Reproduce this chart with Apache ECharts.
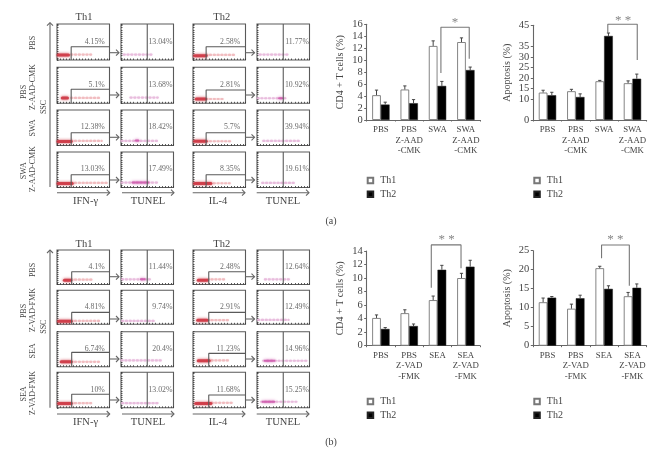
<!DOCTYPE html>
<html><head><meta charset="utf-8">
<script src="https://cdn.jsdelivr.net/npm/echarts@6/dist/echarts.min.js"></script>
<style>html,body{margin:0;padding:0;background:#fff}#c{width:662px;height:455px}#c canvas{filter:blur(0.3px)}</style>
</head><body><div id="c"></div>
<script>
// ---------- Bar chart data ----------
const catsA = ['PBS', 'PBS\nZ-AAD\n-CMK', 'SWA', 'SWA\nZ-AAD\n-CMK'];
const catsB = ['PBS', 'PBS\nZ-VAD\n-FMK', 'SEA', 'SEA\nZ-VAD\n-FMK'];
const cd4Th1A = [4.15, 5.1, 12.38, 13.03];
const cd4Th2A = [2.58, 2.81, 5.7, 8.35];
const cd4ErrTh1A = [0.85, 0.6, 0.85, 0.7];
const cd4ErrTh2A = [0.4, 0.6, 0.75, 0.5];
const apoTh1A = [13.04, 13.68, 18.42, 17.49];
const apoTh2A = [11.77, 10.92, 39.94, 19.61];
const apoErrTh1A = [1.1, 0.9, 0.4, 1.1];
const apoErrTh2A = [1.4, 1.5, 1.4, 2.2];
const cd4Th1B = [4.1, 4.81, 6.74, 10];
const cd4Th2B = [2.48, 2.91, 11.23, 11.68];
const cd4ErrTh1B = [0.45, 0.5, 0.6, 0.7];
const cd4ErrTh2B = [0.2, 0.3, 0.65, 0.95];
const apoTh1B = [11.44, 9.74, 20.4, 13.02];
const apoTh2B = [12.64, 12.49, 14.96, 15.25];
const apoErrTh1B = [1.1, 1.2, 0.5, 1.0];
const apoErrTh2B = [0.3, 0.8, 0.8, 1.0];
// significance brackets, in [position on 0-4 category span, value]
const bracketCd4A = [[2.62, 7.86], [2.62, 15.5], [3.62, 15.5], [3.62, 10.25]];
const bracketApoA = [[2.63, 41.3], [2.63, 45.5], [3.67, 45.5], [3.67, 28.5]];
const bracketCd4B = [[2.28, 8.57], [2.28, 14.9], [3.33, 14.9], [3.33, 11.44]];
const bracketApoB = [[2.41, 23], [2.41, 26.5], [3.39, 26.5], [3.39, 15.8]];
const starCd4A = [3.12, 16.3];
const starApoA = [3.17, 47.3];
const starCd4B = [2.82, 15.7];
const starApoB = [2.9, 27.9];

// ---------- Flow cytometry panels: one list per column ----------
const pctA = [
  ['4.15%', '5.1%', '12.38%', '13.03%'],
  ['13.04%', '13.68%', '18.42%', '17.49%'],
  ['2.58%', '2.81%', '5.7%', '8.35%'],
  ['11.77%', '10.92%', '39.94%', '19.61%']];
const pctB = [
  ['4.1%', '4.81%', '6.74%', '10%'],
  ['11.44%', '9.74%', '20.4%', '13.02%'],
  ['2.48%', '2.91%', '11.23%', '11.68%'],
  ['12.64%', '12.49%', '14.96%', '15.25%']];
// dense core [x0, x1, y] (null when there is no dense part)
const coreA = [
  [[2, 22, 14], [10, 20, 15], [2, 27, 11], [2, 29, 11]],
  [null, null, [28, 33, 14], [22, 52, 14]],
  [[3, 25, 12], [6, 24, 12], [3, 25, 12], [3, 34, 11]],
  [null, [42, 48, 14], null, null]];
const coreB = [
  [[14, 26, 12], [3, 27, 9], [8, 27, 14], [3, 27, 12]],
  [[38, 45, 15], null, null, null],
  [[10, 27, 12], [9, 27, 12], [10, 31, 17], [5, 34, 12]],
  [null, null, [15, 33, 17], [11, 33, 17]]];
// sparse tail [x0, x1, y]
const tailA = [
  [[27, 65, 15], [27, 80, 15], [27, 85, 13], [27, 98, 13]],
  [[5, 60, 15], [18, 70, 16], [1, 70, 13], [1, 70, 14]],
  [[25, 80, 14], [25, 60, 12], [25, 75, 12], [25, 70, 12]],
  [[5, 60, 15], [1, 55, 14], [12, 80, 13], [10, 70, 13]]];
const tailB = [
  [[27, 70, 14], [27, 82, 10], [27, 82, 14], [27, 65, 13]],
  [[2, 55, 15], [2, 65, 10], [1, 80, 18], [2, 70, 13]],
  [[28, 60, 15], [28, 70, 12], [28, 68, 18], [28, 75, 14]],
  [[15, 65, 15], [2, 60, 13], [12, 95, 17], [8, 75, 17]]];
// gate: left edge and top height per IFN/IL-4 column
const gateLeftA = [27, 25];
const gateLeftB = [28, 30];
const gateTopA = [[37, 39, 36, 36], [37, 37, 36, 36]];
const gateTopB = [[37, 35, 41, 38], [37, 35, 38, 36]];
const tunelSplit = 50;

// ---------- Layout ----------
const INK = '#444', LINE = '#666', SERIF = '"Liberation Serif","Times New Roman",serif';
const colX = [57, 121, 193, 257], panelW = [52.5, 52.5, 52.5, 52.5];
const rowsA = [[24, 36], [67.3, 36], [110, 35.5], [152, 35.5]];
const rowsB = [[250, 34.5], [290.3, 34], [331.7, 35], [372.3, 35.5]];
const labelRight = [91, 98, 90, 99];

const grid = [], xAxis = [], yAxis = [], series = [], graphic = [], legend = [];

function panel(col, rowBox, pct, core, tail, gate) {
  const g = grid.length;
  grid.push({ left: colX[col], top: rowBox[0], width: panelW[col], height: rowBox[1], show: true, borderColor: '#5a5a5a', borderWidth: 1.1, backgroundColor: '#fff' });
  const ax = { min: 0, max: 100, interval: 6, type: 'value', gridIndex: g, splitLine: { show: false }, axisLabel: { show: false },
    axisLine: { show: false }, axisTick: { show: true, inside: true, length: 1.5, lineStyle: { color: '#333', width: 0.8 } } };
  xAxis.push(Object.assign({}, ax));
  yAxis.push(Object.assign({}, ax));
  const tunel = col % 2 === 1;
  const segment = (d, color, width, type, op, blur) => d && series.push({ type: 'line', xAxisIndex: g, yAxisIndex: g, symbol: 'none', silent: true,
    data: [[d[0], d[2]], [d[1], d[2]]], lineStyle: { color, width, type, opacity: op, cap: 'round', shadowBlur: blur, shadowColor: color }, z: 3 });
  segment(tail, tunel ? '#e6b4d8' : '#f0b4b8', 2.2, [1.2, 2.6], 0.7, 1);
  segment(core, tunel ? '#cf5cae' : '#cc3340', tunel ? 2 : 3, 'solid', 0.85, 3);
  series.push({ type: 'line', xAxisIndex: g, yAxisIndex: g, symbol: 'none', silent: true, z: 4,
    data: tunel ? [[tunelSplit, 0], [tunelSplit, 100]] : [[gate[0], 0], [gate[0], gate[1]], [100, gate[1]]],
    lineStyle: { color: '#5a5a5a', width: 1.1 } });
  series.push({ type: 'scatter', xAxisIndex: g, yAxisIndex: g, symbolSize: 0, silent: true, clip: false, z: 5,
    data: [[labelRight[col], 51]],
    label: { show: true, position: 'left', distance: 0, formatter: pct, fontFamily: SERIF, fontSize: 7.8, color: INK } });
}
[[rowsA, pctA, coreA, tailA, gateLeftA, gateTopA], [rowsB, pctB, coreB, tailB, gateLeftB, gateTopB]].forEach(([rows, pct, core, tail, gl, gt]) => {
  for (let c = 0; c < 4; c++) for (let r = 0; r < 4; r++) {
    panel(c, rows[r], pct[c][r], core[c][r], tail[c][r], c % 2 === 0 ? [gl[c / 2], gt[c / 2][r]] : null);
  }
});

function bars(left, top, height, cats, max, step, th1, th2, e1, e2, name, bracket, star, stars, legendTop) {
  const g = grid.length, W = 113.3, BW = 8.7;
  grid.push({ left, top, width: W, height, show: false });
  xAxis.push({ type: 'category', gridIndex: g, data: cats, axisTick: { show: true, length: 1.5, lineStyle: { color: LINE } },
    axisLine: { lineStyle: { color: LINE, width: 1.1 } },
    axisLabel: { fontFamily: SERIF, fontSize: 8.8, lineHeight: 10.2, color: INK, margin: 5, interval: 0 } });
  yAxis.push({ type: 'value', gridIndex: g, min: 0, max, interval: step, splitLine: { show: false },
    axisLine: { show: true, lineStyle: { color: LINE, width: 1.1 } }, axisTick: { show: true, length: 2.5, lineStyle: { color: LINE } },
    axisLabel: { fontFamily: SERIF, fontSize: 10.5, lineHeight: 8, color: INK, margin: 4, showMinLabel: true, showMaxLabel: true, hideOverlap: false },
    name, nameLocation: 'middle', nameGap: 21, nameRotate: 90, nameTextStyle: { fontFamily: SERIF, fontSize: 10, color: INK } });
  const xi = xAxis.length;
  xAxis.push({ type: 'value', gridIndex: g, min: 0, max: 4, show: false });
  const xc = xi - 1, yc = yAxis.length - 1;
  const bar = (nm, vals, st) => series.push({ type: 'bar', name: nm, xAxisIndex: xc, yAxisIndex: yc, data: vals, barWidth: BW, barGap: 0, itemStyle: st, silent: true, z: 3 });
  bar('Th1', th1, { color: '#fff', borderColor: '#777', borderWidth: 0.9 });
  bar('Th2', th2, { color: '#000', borderColor: '#222', borderWidth: 0.5 });
  const errs = (vals, err, off) => series.push({ type: 'custom', xAxisIndex: xc, yAxisIndex: yc, silent: true, z: 4, clip: false,
    data: vals.map((v, i) => [i, v + err[i], v]), encode: { x: 0, y: 1 },
    renderItem: (p, api) => {
      const t = api.coord([api.value(0), api.value(1)]), b = api.coord([api.value(0), api.value(2)]);
      const x = t[0] + off, s = { stroke: '#444', lineWidth: 1, fill: null };
      return { type: 'group', children: [
        { type: 'line', shape: { x1: x, y1: b[1], x2: x, y2: t[1] }, style: s },
        { type: 'line', shape: { x1: x - 1.6, y1: t[1], x2: x + 1.6, y2: t[1] }, style: s }] };
    } });
  errs(th1, e1, -BW / 2);
  errs(th2, e2, BW / 2);
  series.push({ type: 'line', xAxisIndex: xi, yAxisIndex: yc, data: bracket, symbol: 'none', silent: true, clip: false, z: 5, lineStyle: { color: '#777', width: 1.1 } });
  series.push({ type: 'scatter', xAxisIndex: xi, yAxisIndex: yc, data: [star], symbolSize: 0, silent: true, clip: false, z: 5,
    label: { show: true, position: 'inside', formatter: stars, fontFamily: SERIF, fontSize: 13, color: '#666' } });
  legend.push({ data: ['Th1', 'Th2'], orient: 'vertical', left, top: legendTop, icon: 'rect', itemWidth: 5.5, itemHeight: 5.5, itemGap: 3.8, selectedMode: false,
    textStyle: { fontFamily: SERIF, fontSize: 10, color: INK, padding: [0, 0, 0, 2] }, padding: 0 });
}
bars(366.7, 24.3, 95.7, catsA, 16, 2, cd4Th1A, cd4Th2A, cd4ErrTh1A, cd4ErrTh2A, 'CD4 + T cells (%)', bracketCd4A, starCd4A, '*', 175.5);
bars(533.3, 25.3, 94.7, catsA, 45, 5, apoTh1A, apoTh2A, apoErrTh1A, apoErrTh2A, 'Apoptosis (%)', bracketApoA, starApoA, '* *', 175.5);
bars(366.7, 251, 94.7, catsB, 14, 2, cd4Th1B, cd4Th2B, cd4ErrTh1B, cd4ErrTh2B, 'CD4 + T cells (%)', bracketCd4B, starCd4B, '* *', 396.5);
bars(533.3, 250.7, 95, catsB, 25, 5, apoTh1B, apoTh2B, apoErrTh1B, apoErrTh2B, 'Apoptosis (%)', bracketApoB, starApoB, '* *', 396.5);

// ---------- Decorations ----------
function text(t, x, y, size, rot) {
  graphic.push({ type: 'text', x, y, rotation: rot ? Math.PI / 2 : 0, silent: true, z: 10,
    style: { text: t, fontFamily: SERIF, fontSize: size, fill: INK, textAlign: 'center', textVerticalAlign: 'middle' } });
}
function arrowH(x1, x2, y) {
  const st = { stroke: LINE, lineWidth: 1.1, fill: null };
  graphic.push({ type: 'polyline', silent: true, z: 10, shape: { points: [[x1, y], [x2, y]] }, style: st });
  graphic.push({ type: 'polyline', silent: true, z: 10, shape: { points: [[x2 - 3, y - 3], [x2, y], [x2 - 3, y + 3]] }, style: st });
}
function arrowV(x, y1, y2) {
  const st = { stroke: LINE, lineWidth: 1.1, fill: null };
  graphic.push({ type: 'polyline', silent: true, z: 10, shape: { points: [[x, y1], [x, y2]] }, style: st });
  graphic.push({ type: 'polyline', silent: true, z: 10, shape: { points: [[x - 3, y2 + 3], [x, y2], [x + 3, y2 + 3]] }, style: st });
}
const footX = [85.5, 148, 218, 283], footNames = ['IFN-γ', 'TUNEL', 'IL-4', 'TUNEL'];
const arrowSpan = [[57, 109.7], [122, 174], [192.7, 245], [256.7, 309]];
[[17.7, 192.7, 201.7, 187, 22.7, 107, [52.7, 95, 137.3, 180]], [244, 414, 422, 407.7, 250, 326.7, [276.7, 319, 359, 400]]].forEach(([ty, ay, fy, vb, vt, sy, gates]) => {
  text('Th1', 84, ty, 10.5);
  text('Th2', 221.7, ty, 10.5);
  footNames.forEach((n, i) => { text(n, footX[i], fy, 10.5); arrowH(arrowSpan[i][0], arrowSpan[i][1], ay); });
  arrowV(50, vb, vt);
  text('SSC', 44, sy, 8, true);
  gates.forEach(y => { arrowH(110, 119, y); arrowH(245.5, 254.5, y); });
});
const sideLabels = [
  ['PBS', 33, 43], ['PBS', 24, 92], ['Z-AAD-CMK', 33, 87], ['SWA', 33, 128], ['SWA', 24, 170.7], ['Z-AAD-CMK', 33, 169],
  ['PBS', 33, 270], ['PBS', 24, 311], ['Z-VAD-FMK', 33, 310], ['SEA', 33, 351], ['SEA', 24, 394], ['Z-VAD-FMK', 33, 393]];
sideLabels.forEach(([t, x, y]) => graphic.push({ type: 'text', x, y, rotation: Math.PI / 2, silent: true, z: 10,
  style: { text: t, fontFamily: SERIF, fontSize: 8, fill: INK, textAlign: 'center', textVerticalAlign: 'middle' } }));
text('(a)', 331, 221, 10);
text('(b)', 331, 442, 10);

const chart = echarts.init(document.getElementById('c'), null, { renderer: 'canvas', width: 662, height: 455 });
chart.setOption({ animation: false, backgroundColor: '#fff', grid, xAxis, yAxis, series, legend, graphic });
</script></body></html>
